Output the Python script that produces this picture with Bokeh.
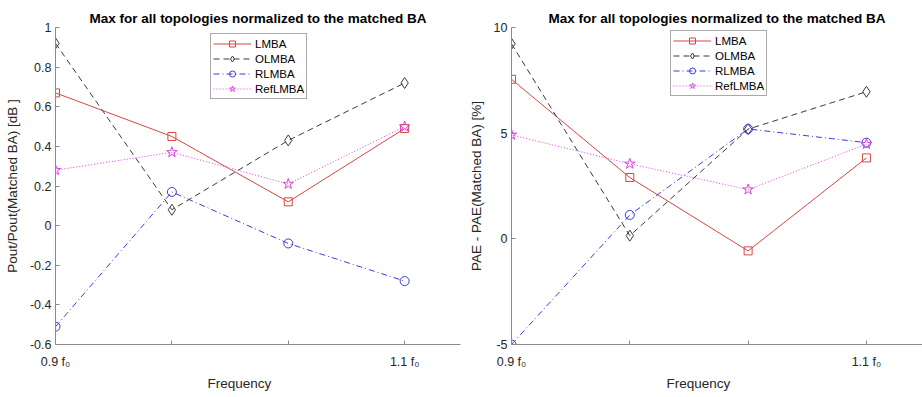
from bokeh.plotting import figure
from bokeh.layouts import row
from bokeh.models import FixedTicker, Legend, LegendItem, Title, Range1d
from bokeh.embed import file_html
from bokeh.resources import INLINE

# ---------------- data ----------------
x_pos = [1, 2, 3, 4]
x_tick_labels = ["0.9 f\u2080", "", "", "1.1 f\u2080"]
series_names = ["LMBA", "OLMBA", "RLMBA", "RefLMBA"]

pout_lmba = [0.67, 0.45, 0.12, 0.49]
pout_olmba = [0.92, 0.08, 0.43, 0.72]
pout_rlmba = [-0.51, 0.17, -0.09, -0.28]
pout_reflmba = [0.28, 0.37, 0.21, 0.50]

pae_lmba = [7.55, 2.90, -0.57, 3.83]
pae_olmba = [9.23, 0.15, 5.19, 6.96]
pae_rlmba = [-5.00, 1.13, 5.20, 4.55]
pae_reflmba = [4.92, 3.55, 2.33, 4.48]

pout_ticks = [-0.6, -0.4, -0.2, 0, 0.2, 0.4, 0.6, 0.8, 1]
pae_ticks = [-5, 0, 5, 10]

title_text = "Max for all topologies normalized to the matched BA"
xlabel = "Frequency"
ylabel_pout = "Pout/Pout(Matched BA) [dB ]"
ylabel_pae = "PAE - PAE(Matched BA) [%]"

# ---------------- styles ----------------
FONT = "Liberation Sans"
styles = [
    dict(color="#d94545", dash="solid", marker="square", size=8),
    dict(color="#3a3a3a", dash="6 4", marker="diamond", size=11),
    dict(color="#3c3cd2", dash="6 3 1 3", marker="circle", size=9),
    dict(color="#e040e0", dash="1 2", marker="star", size=11),
]


def fmt(v):
    return ("%g" % v)


def make_plot(series, ticks, ylabel, x_end, left, right, top, bottom, legend_loc, xlabel_off, width):
    p = figure(width=width, height=397, output_backend="svg", toolbar_location=None,
               x_range=Range1d(1, x_end), y_range=Range1d(ticks[0], ticks[-1]),
               min_border_left=left, min_border_right=right,
               min_border_top=top, min_border_bottom=bottom)
    p.outline_line_color = None
    p.grid.visible = False
    p.background_fill_color = "white"
    p.border_fill_color = "white"

    t = Title(text=title_text, align="center", text_font=FONT, text_font_size="13.5px",
              text_font_style="bold", text_color="#000000", standoff=3)
    p.add_layout(t, "above")

    for ax in (p.xaxis[0], p.yaxis[0]):
        ax.axis_line_color = "#8a8a8a"
        ax.major_tick_line_color = "#8a8a8a"
        ax.major_tick_in = 4
        ax.major_tick_out = 0
        ax.minor_tick_line_color = None
        ax.major_label_text_font = FONT
        ax.major_label_text_font_size = "12.5px"
        ax.major_label_text_color = "#262626"
        ax.axis_label_text_font = FONT
        ax.axis_label_text_font_size = "13.5px"
        ax.axis_label_text_font_style = "normal"
        ax.axis_label_text_color = "#262626"

    p.xaxis.ticker = FixedTicker(ticks=x_pos)
    p.xaxis.major_label_overrides = {x: lab for x, lab in zip(x_pos, x_tick_labels)}
    p.xaxis.major_label_standoff = 10

    p.yaxis.ticker = FixedTicker(ticks=ticks)
    p.yaxis.major_label_overrides = {t_: fmt(t_) for t_ in ticks}
    p.yaxis.major_label_standoff = 4
    p.yaxis.axis_label = ylabel
    p.yaxis.axis_label_standoff = 7

    xt = Title(text=xlabel, align="left", offset=xlabel_off, text_font=FONT,
               text_font_size="13.5px", text_font_style="normal", text_color="#262626",
               standoff=4)
    p.add_layout(xt, "below")

    items = []
    for name, ys, st in zip(series_names, series, styles):
        lr = p.line(x_pos, ys, line_color=st["color"], line_dash=st["dash"], line_width=1)
        sr = p.scatter(x_pos, ys, marker=st["marker"], size=st["size"], fill_color=None,
                       line_color=st["color"], line_width=1)
        items.append(LegendItem(label=name, renderers=[lr, sr]))

    leg = Legend(items=items, location=legend_loc, label_text_font=FONT,
                 label_text_font_size="11.5px", label_text_color="#000000",
                 glyph_width=38, glyph_height=15, label_height=15, label_standoff=4,
                 spacing=0, padding=2, margin=0, border_line_color="#555555",
                 border_line_width=1, background_fill_color="white", background_fill_alpha=1)
    p.add_layout(leg, "center")
    return p


p1 = make_plot([pout_lmba, pout_olmba, pout_rlmba, pout_reflmba], pout_ticks, ylabel_pout,
               4.48, 55, 1, 27, 52, (155, 245), 152, 461)
p2 = make_plot([pae_lmba, pae_olmba, pae_rlmba, pae_reflmba], pae_ticks, ylabel_pae,
               4.474, 50, 0, 20, 53, (159, 248), 155, 461)

layout = row(p1, p2)
open("out.html", "w").write(file_html(layout, INLINE))
